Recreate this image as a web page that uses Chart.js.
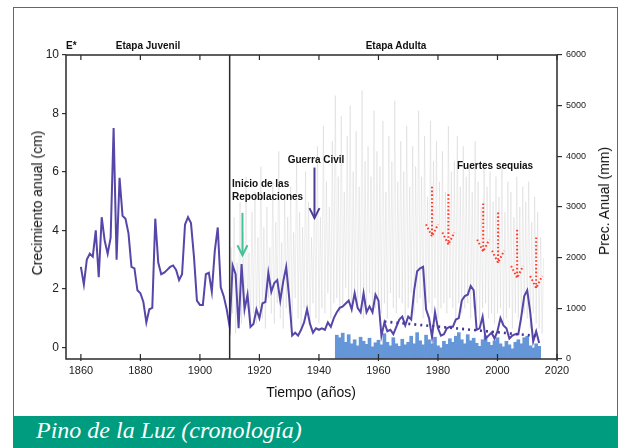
<!DOCTYPE html>
<html><head><meta charset="utf-8">
<script src="https://cdn.jsdelivr.net/npm/chart.js@4.4.1/dist/chart.umd.min.js"></script>
<style>
html,body{margin:0;padding:0;background:#fff;}
#wrap{position:relative;width:632px;height:448px;overflow:hidden;background:#fff;font-family:"Liberation Sans",Arial,sans-serif;}
#frame{position:absolute;left:13px;top:7px;width:605px;height:410px;border:1px solid #666;border-bottom:none;box-sizing:border-box;}
#band{position:absolute;left:13px;top:416px;width:605px;height:32px;background:#009c80;}
#band span{position:absolute;left:23px;top:1px;font:italic 24px "Liberation Serif","Times New Roman",serif;color:#fff;white-space:nowrap;}
canvas{position:absolute;left:0;top:0;}
.t{position:absolute;font-weight:bold;font-size:10px;color:#111;white-space:nowrap;line-height:12px;}
.c{transform:translate(-50%,-50%);}
.l{transform:translate(0,-50%);}
.ax{position:absolute;font-size:14px;color:#111;white-space:nowrap;line-height:16px;}
</style></head>
<body>
<div id="wrap">
  <div id="frame"></div>
  <canvas id="c" width="632" height="448"></canvas>
  <div class="t l" style="left:66px;top:46px;">E*</div>
  <div class="t c" style="left:148px;top:46px;">Etapa Juvenil</div>
  <div class="t c" style="left:396px;top:46px;">Etapa Adulta</div>
  <div class="t c" style="left:316px;top:160px;">Guerra Civil</div>
  <div class="t l" style="left:232px;top:184px;">Inicio de las</div>
  <div class="t l" style="left:232px;top:197px;">Repoblaciones</div>
  <div class="t l" style="left:457px;top:166px;">Fuertes sequias</div>
  <div class="ax c" style="left:37px;top:203px;transform:translate(-50%,-50%) rotate(-90deg);">Crecimiento anual (cm)</div>
  <div class="ax c" style="left:604px;top:201px;transform:translate(-50%,-50%) rotate(-90deg);">Prec. Anual (mm)</div>
  <div class="ax c" style="left:311px;top:392px;">Tiempo (años)</div>
  <div id="band"><span>Pino de la Luz (cronología)</span></div>
</div>
<script>
// ---------------- data ----------------
const growthStartYear = 1860;
const growthCm = [
  2.75,2.15,3.0,3.2,3.1,4.0,2.4,4.45,3.65,3.2,
  3.75,7.5,3.0,5.8,4.5,4.4,3.9,2.75,2.7,1.95,
  1.85,1.55,0.85,1.3,1.35,4.4,2.9,2.5,2.55,2.65,
  2.75,2.8,2.65,2.3,2.5,4.2,4.45,4.25,3.1,1.6,
  1.45,1.45,2.5,2.55,1.9,3.3,4.1,2.05,1.75,1.3,
  0.7,2.8,2.5,0.65,2.85,1.3,1.8,0.7,0.8,1.3,
  1.0,1.5,1.55,2.55,1.9,2.2,2.3,1.6,2.25,2.75,
  1.7,0.4,0.5,0.4,0.6,0.85,1.3,0.8,0.5,0.65,
  0.6,0.65,0.6,0.85,0.7,1.0,1.2,1.35,1.4,1.5,
  1.6,1.3,1.85,1.35,1.2,1.85,1.2,1.4,1.2,1.8,
  1.6,0.4,0.85,0.55,0.6,0.45,0.7,0.95,1.05,0.75,
  1.05,0.95,1.95,2.6,2.7,2.75,1.3,1.0,0.35,1.2,
  0.65,0.4,0.45,0.65,0.7,0.7,0.95,1.0,1.6,1.75,
  1.8,2.1,1.95,0.6,0.65,1.05,0.3,0.4,0.5,0.3,
  0.55,1.0,0.75,0.65,0.3,0.4,0.45,0.45,1.05,1.75,
  1.95,1.2,0.2,0.55,0.15
];
const trendYears = [1962, 2014];
const trendCm = [0.88, 0.38];

const precipStartYear = 1946;
const precipAnnualMm = [
  470,420,510,330,480,300,380,260,430,350,
  290,410,240,320,370,280,500,330,260,420,
  300,250,390,280,330,450,300,520,360,280,
  470,380,300,430,260,220,350,290,400,330,
  450,520,380,300,480,360,410,310,250,380,
  460,330,270,360,420,300,240,350,280,200,
  330,380,300,420,450,260,220,300,250
];

const grayStartYear = 1910;
const grayPeaksMm = [
  2200,2800,1900,3100,2500,3600,2100,2900,3300,2400,
  3800,2600,3000,2200,3500,2700,4100,2300,3200,2800,
  3400,2500,3900,2900,2600,3700,3100,2400,3300,4200,
  2800,4600,3500,3000,4300,5200,3600,4800,3300,4400,
  5000,3700,4500,3400,5300,3900,4200,3600,4900,4100,
  3800,4700,3300,4400,3900,5100,3500,4300,3700,4600,
  3400,4200,3800,4900,3600,4400,3200,4700,3900,4300,
  3500,4100,3300,4600,3700,3900,4400,3400,4200,3600,
  3800,3300,4300,3500,3000,3900,3400,3700,3100,3600,
  3200,3800,2900,3500,3300,2800,3600,3000,3400,3100,
  3500,2700,3200,2900,2400,2000
];
const grayTroughsMm = [
  600,900,500,1100,700,800,1000,600,900,700,
  1000,800,600,1200,900,700,1100,800,600,1000,
  900,700,1200,800,600,1000,900,700,1100,800,
  700,1000,900,1300,800,1100,1200,900,1000,1400,
  1100,900,1300,1000,1200,800,1100,1300,900,1000,
  1200,900,1100,800,1300,1000,900,1200,1100,800,
  1000,1300,900,1100,1200,800,1000,1100,900,1200,
  800,1000,1100,900,1200,1000,800,1100,900,1000,
  1100,800,1000,900,700,1000,1100,800,900,700,
  900,1000,700,800,1000,600,900,800,700,900,
  800,600,900,700,600,500
];

const xTickYears = [1860,1880,1900,1920,1940,1960,1980,2000,2020];
const growthTicks = [0,2,4,6,8,10];
const precipTicks = [0,1000,2000,3000,4000,5000,6000];
const stageBoundaryYear = 1910;

// annotation arrows (left-axis units for solid arrows, right-axis mm for drought arrows)
const repoblArrow = {year:1914.3, from:4.6, to:3.15};
const guerraArrow = {year:1938.5, from:6.15, to:4.42};
const droughtYears = [1978, 1983.5, 1995.2, 2000.2, 2006.6, 2013];
const droughtTopMm = [3400, 3250, 3070, 2890, 2550, 2400];
const droughtTipMm = [2420, 2260, 2120, 1900, 1600, 1400];

// ---------------- build ----------------
const growthData = growthCm.map((v,i)=>({x:growthStartYear+i, y:v}));
const trendData = trendYears.map((yr,i)=>({x:yr, y:trendCm[i]}));
const barData = precipAnnualMm.map((v,i)=>({x:precipStartYear+i, y:v}));
const grayData = [];
grayPeaksMm.forEach((p,i)=>{
  grayData.push({x:grayStartYear+i, y:grayTroughsMm[i]});
  grayData.push({x:grayStartYear+i+0.5, y:p});
});

Chart.defaults.font.family = '"Liberation Sans", Arial, sans-serif';
Chart.defaults.color = '#1a1a1a';

const decor = {
  id:'decor',
  afterDatasetsDraw(chart){
    const {ctx, chartArea:a, scales} = chart;
    const x = scales.x, y = scales.y, y2 = scales.y2;
    ctx.save();
    ctx.strokeStyle = '#2a2a2a';
    ctx.lineWidth = 1.5;
    ctx.strokeRect(a.left, a.top, a.right-a.left, a.bottom-a.top);
    const bx = x.getPixelForValue(stageBoundaryYear);
    ctx.beginPath(); ctx.moveTo(bx, a.top); ctx.lineTo(bx, a.bottom); ctx.stroke();
    ctx.lineWidth = 1.2;
    xTickYears.forEach(yr=>{
      const px = x.getPixelForValue(yr);
      ctx.beginPath(); ctx.moveTo(px, a.top); ctx.lineTo(px, a.top+5); ctx.stroke();
      ctx.beginPath(); ctx.moveTo(px, a.bottom+2); ctx.lineTo(px, a.bottom-5); ctx.stroke();
    });
    function solidArrow(ar, color){
      const px = x.getPixelForValue(ar.year);
      const p0 = y.getPixelForValue(ar.from), p1 = y.getPixelForValue(ar.to);
      ctx.strokeStyle = color; ctx.lineWidth = 2;
      ctx.beginPath(); ctx.moveTo(px,p0); ctx.lineTo(px,p1); ctx.stroke();
      ctx.beginPath(); ctx.moveTo(px-5,p1-10); ctx.lineTo(px,p1); ctx.lineTo(px+5,p1-10); ctx.stroke();
    }
    solidArrow(repoblArrow, '#46c097');
    solidArrow(guerraArrow, '#4b3c95');
    ctx.strokeStyle = '#ff3a2a'; ctx.lineWidth = 2; ctx.setLineDash([1.6,2.2]);
    droughtYears.forEach((yr,i)=>{
      const px = x.getPixelForValue(yr);
      const p0 = y2.getPixelForValue(droughtTopMm[i]), p1 = y2.getPixelForValue(droughtTipMm[i]);
      ctx.beginPath(); ctx.moveTo(px,p0); ctx.lineTo(px,p1); ctx.stroke();
      ctx.beginPath(); ctx.moveTo(px-6,p1-12); ctx.lineTo(px,p1); ctx.lineTo(px+6,p1-12); ctx.stroke();
    });
    ctx.restore();
  }
};

new Chart(document.getElementById('c'), {
  type:'bar',
  data:{datasets:[
    {type:'line', data:grayData, yAxisID:'y2', borderColor:'rgba(165,165,165,0.2)', borderWidth:1, pointRadius:0, tension:0, order:4},
    {type:'bar', data:barData, yAxisID:'y2', backgroundColor:'#6496d8', borderWidth:0, barThickness:3, order:3},
    {type:'line', data:growthData, yAxisID:'y', borderColor:'#5646a8', borderWidth:2, pointRadius:0, tension:0, order:2},
    {type:'line', data:trendData, yAxisID:'y', borderColor:'#45379a', borderWidth:2.6, borderDash:[2,4], pointRadius:0, order:1}
  ]},
  options:{
    responsive:false, animation:false, events:[],
    layout:{padding:{top:55,left:0,right:0,bottom:0}},
    plugins:{legend:{display:false}, tooltip:{enabled:false}},
    scales:{
      x:{type:'linear', min:1855, max:2020, offset:false, position:'bottom',
         afterFit(s){s.height=89;},
         afterBuildTicks(s){s.ticks = xTickYears.map(v=>({value:v}));},
         grid:{display:false, drawTicks:false}, border:{display:false},
         ticks:{padding:5, autoSkip:false, maxRotation:0, font:{size:11}, color:'#222', callback:v=>String(v)}},
      y:{type:'linear', position:'left', min:-0.4, max:10,
         afterFit(s){s.width=66;},
         afterBuildTicks(s){s.ticks = growthTicks.map(v=>({value:v}));},
         grid:{drawOnChartArea:false, tickLength:4, color:'#333', lineWidth:1.2}, border:{display:false},
         ticks:{padding:3, font:{size:12}, color:'#222', callback:v=>String(v)}},
      y2:{type:'linear', position:'right', min:0, max:6000,
         afterFit(s){s.width=75;},
         afterBuildTicks(s){s.ticks = precipTicks.map(v=>({value:v}));},
         grid:{drawOnChartArea:false, tickLength:5, color:'#333', lineWidth:1.2}, border:{display:false},
         ticks:{padding:4, font:{size:9}, color:'#222', callback:v=>String(v)}}
    }
  },
  plugins:[decor]
});
</script>
</body></html>
